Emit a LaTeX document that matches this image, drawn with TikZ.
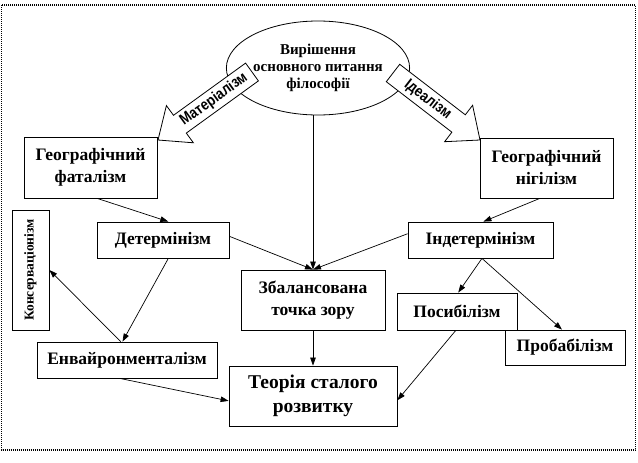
\documentclass[tikz,border=0pt]{standalone}
\usepackage{fontspec}
\setmainfont{Liberation Serif}
\newfontfamily\arialn[FakeStretch=0.85]{Liberation Sans}
\usetikzlibrary{shapes.geometric,arrows.meta,calc}
\tikzset{
  box/.style={draw, line width=0.8pt, fill=white, align=center, inner sep=0pt,
    font=\bfseries\fontsize{17.5}{22}\selectfont},
  conn/.style={line width=0.7pt, -{Triangle[length=8pt,width=5.5pt]}},
  blockarrow/.style={draw, line width=0.8pt, fill=white, line join=miter},
  arrowlabel/.style={inner sep=0pt, font=\arialn\bfseries\fontsize{15.5}{15.5}\selectfont},
  frame/.style={line width=1.3pt, dash pattern=on 1pt off 1pt}
}
\begin{document}
\begin{tikzpicture}[x=1pt,y=-1pt]
\useasboundingbox (0,0) rectangle (638,463);
\draw[frame] (1.5,5) rectangle (635.5,450);

% ellipse
\node[ellipse, draw, line width=0.8pt, minimum width=180, minimum height=94, inner sep=0pt,
  align=center, font=\bfseries\fontsize{15}{17}\selectfont] (ell) at (318,68)
  {Вирішення\\основного питання\\філософії};

% block arrows
\draw[blockarrow] (245.6,63.1) -- (173.5,115.3) -- (166.4,105.6) -- (158,140) -- (193.4,142.8) -- (186.3,133.1) -- (258.4,80.9) -- cycle;
\node[arrowlabel, rotate=35.9] (mat) at (213.9,99.5) {Матеріалізм};
\draw[blockarrow] (399.7,64.3) -- (465.3,114.8) -- (472.6,105.3) -- (480,140) -- (444.6,141.7) -- (451.9,132.2) -- (386.3,81.7) -- cycle;
\node[arrowlabel, rotate=-37.6] (ide) at (427.8,99.8) {Ідеалізм};

% boxes
\node[box, minimum width=133, minimum height=61] (gf) at (90.5,167.5) {Географічний\\фаталізм};
\node[box, minimum width=133, minimum height=60] (gn) at (546.5,168) {Географічний\\нігілізм};
\node[box, minimum width=132, minimum height=36] (det) at (163,240) {Детермінізм};
\node[box, minimum width=145, minimum height=36] (ind) at (480.5,240) {Індетермінізм};
\node[box, minimum width=37, minimum height=120, font=\bfseries\fontsize{13.5}{14}\selectfont] (kons) at (30.5,270) {\rotatebox{90}{Консерваціонізм}};
\node[box, minimum width=144, minimum height=60] (zb) at (313,300) {Збалансована\\точка зору};
\node[box, minimum width=120, minimum height=37] (pos) at (457,311.5) {Посибілізм};
\node[box, minimum width=120, minimum height=35] (prob) at (565,347.5) {Пробабілізм};
\node[box, minimum width=180, minimum height=36] (env) at (127,360) {Енвайронменталізм};
\node[box, minimum width=168, minimum height=60, font=\bfseries\fontsize{19.5}{24}\selectfont] (teo) at (313,396) {Теорія сталого\\розвитку};

% connectors
\draw[conn] ($(gf.south west)!0.55!(gf.south east)$) -- ($(det.north west)!0.54!(det.north east)$);
\draw[conn] ($(det.north east)!0.4!(det.south east)$) -- (zb.north);
\draw[conn] (ell.south -| zb.north) -- (zb.north);
\draw[conn] ($(ind.north west)!0.33!(ind.south west)$) -- (zb.north);
\draw[conn] ($(gn.south west)!0.45!(gn.south east)$) -- ($(ind.north west)!0.52!(ind.north east)$);
\draw[conn] ($(det.south west)!0.54!(det.south east)$) -- ($(env.north west)!0.475!(env.north east)$);
\draw[conn] ($(env.north west)!0.465!(env.north east)$) -- (kons.east);
\draw[conn] ($(env.south west)!0.46!(env.south east)$) -- ($(teo.north west)!0.58!(teo.south west)$);
\draw[conn] (zb.south) -- (teo.north);
\draw[conn] ($(pos.south west)!0.49!(pos.south east)$) -- ($(teo.north east)!0.57!(teo.south east)$);
\draw[conn] ($(ind.south west)!0.51!(ind.south east)$) -- ($(pos.north west)!0.51!(pos.north east)$);
\draw[conn] ($(ind.south west)!0.51!(ind.south east)$) -- ($(prob.north west)!0.475!(prob.north east)$);
\end{tikzpicture}
\end{document}
